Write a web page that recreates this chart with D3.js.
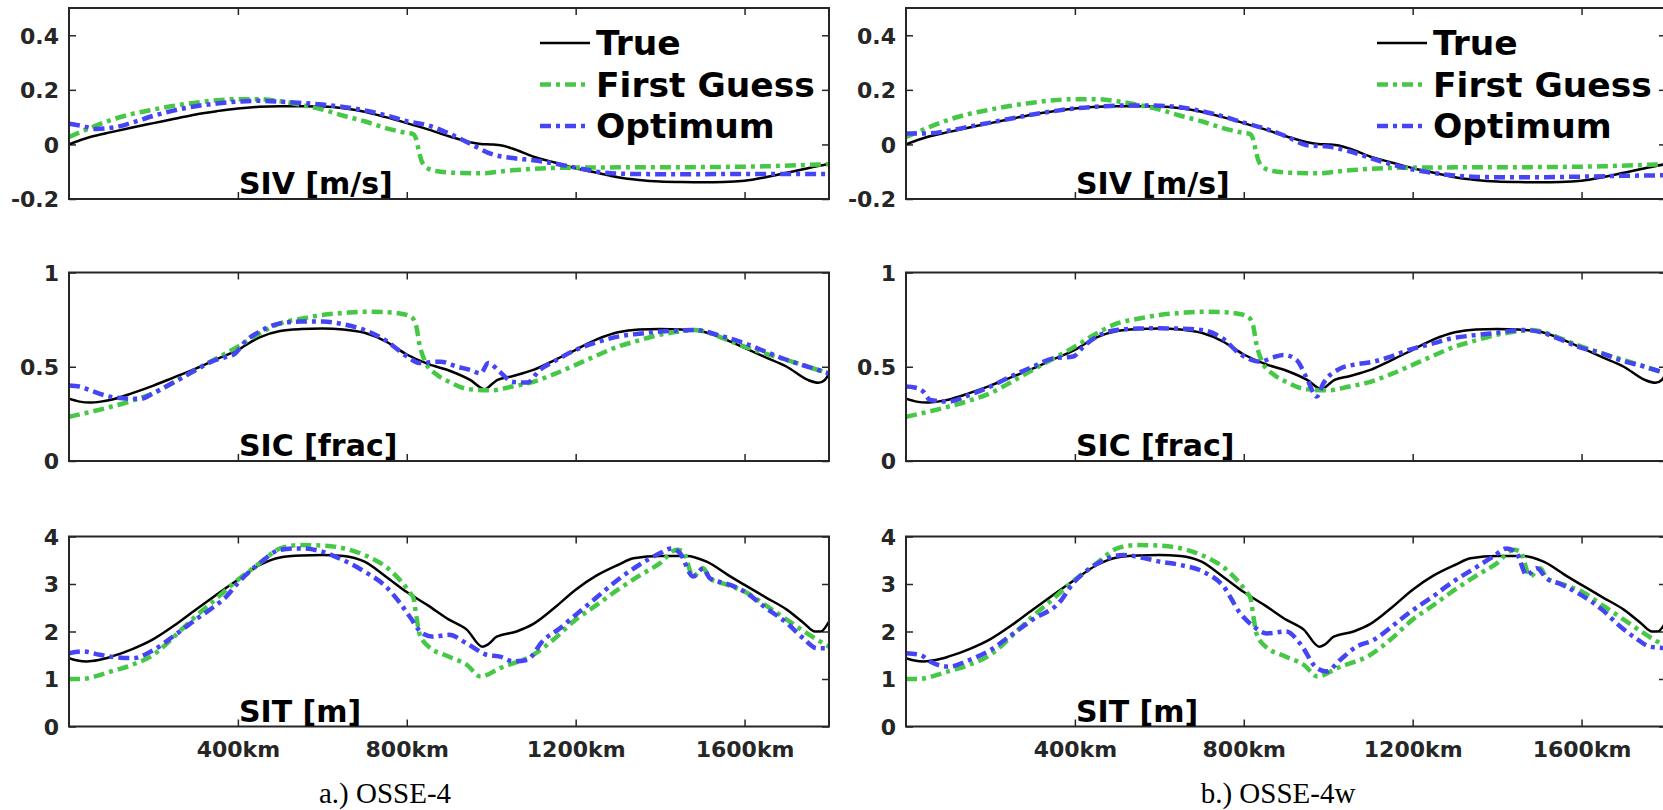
<!DOCTYPE html>
<html>
<head>
<meta charset="utf-8">
<script src="https://cdn.jsdelivr.net/npm/d3@7"></script>
<style>
  body { margin: 0; background: #fff; }
  text { font-family: "DejaVu Sans", sans-serif; font-weight: bold; }
  .caption { font-family: "Liberation Serif", serif; font-weight: normal; }
</style>
</head>
<body>
<div id="chart"></div>
<script>
// categories / labels
let captions = ["a.) OSSE-4", "b.) OSSE-4w"];
let seriesNames = ["True", "First Guess", "Optimum"];
let rowLabels = ["SIV [m/s]", "SIC [frac]", "SIT [m]"];
let xTicks = [400, 800, 1200, 1600];
let sivTicks = [-0.2, 0, 0.2, 0.4];
let sicTicks = [0, 0.5, 1];
let sitTicks = [0, 1, 2, 3, 4];
let sivDomain = [-0.2, 0.5];
let sicDomain = [0, 1];
let sitDomain = [0, 4];

// values as [km, value]
let sivTrue = [[0,0],[50,0.027],[100,0.045],[150,0.062],[200,0.078],[250,0.094],[300,0.11],[350,0.122],[400,0.132],[450,0.138],[500,0.14],[550,0.14],[600,0.139],[650,0.133],[700,0.12],[750,0.1],[800,0.078],[850,0.055],[900,0.03],[950,0.008],[975,0.002],[1000,0.0],[1025,-0.004],[1050,-0.015],[1100,-0.045],[1150,-0.066],[1200,-0.087],[1250,-0.104],[1300,-0.12],[1350,-0.13],[1400,-0.136],[1450,-0.138],[1500,-0.139],[1550,-0.138],[1600,-0.133],[1650,-0.12],[1700,-0.104],[1750,-0.087],[1800,-0.072]];
let sivGuess = [[0,0.027],[50,0.06],[100,0.09],[150,0.112],[200,0.128],[250,0.142],[300,0.153],[350,0.162],[400,0.166],[450,0.166],[500,0.158],[550,0.145],[600,0.128],[650,0.105],[700,0.085],[750,0.06],[800,0.042],[815,0.038],[822,0.02],[828,-0.02],[835,-0.06],[850,-0.088],[880,-0.1],[930,-0.105],[970,-0.106],[1050,-0.095],[1150,-0.086],[1300,-0.084],[1500,-0.083],[1650,-0.08],[1800,-0.072]];
let sivOptA = [[0,0.076],[30,0.068],[65,0.057],[110,0.063],[150,0.08],[200,0.105],[250,0.125],[300,0.14],[350,0.15],[400,0.157],[450,0.16],[500,0.157],[550,0.152],[600,0.146],[650,0.137],[700,0.125],[750,0.107],[800,0.085],[850,0.07],[900,0.04],[950,0.003],[1000,-0.035],[1050,-0.05],[1100,-0.058],[1150,-0.07],[1200,-0.085],[1250,-0.1],[1300,-0.107],[1400,-0.109],[1500,-0.109],[1600,-0.108],[1700,-0.108],[1800,-0.108]];
let sivOptB = [[0,0.04],[50,0.04],[100,0.05],[150,0.065],[200,0.08],[250,0.095],[300,0.11],[350,0.122],[400,0.132],[450,0.138],[500,0.142],[550,0.143],[600,0.142],[650,0.136],[700,0.122],[750,0.103],[800,0.08],[850,0.058],[900,0.03],[950,-0.003],[1000,-0.008],[1050,-0.025],[1100,-0.05],[1150,-0.073],[1200,-0.092],[1250,-0.105],[1300,-0.114],[1350,-0.119],[1400,-0.12],[1500,-0.12],[1600,-0.118],[1700,-0.115],[1800,-0.113]];

let sicTrue = [[0,0.33],[25,0.315],[50,0.31],[75,0.315],[100,0.325],[150,0.36],[200,0.4],[250,0.445],[300,0.49],[350,0.54],[400,0.59],[450,0.655],[500,0.69],[550,0.7],[600,0.703],[650,0.698],[700,0.68],[750,0.635],[800,0.565],[850,0.515],[900,0.48],[950,0.43],[985,0.38],[1000,0.405],[1015,0.43],[1050,0.45],[1100,0.483],[1150,0.535],[1200,0.59],[1250,0.645],[1300,0.683],[1350,0.698],[1400,0.7],[1450,0.697],[1500,0.687],[1560,0.64],[1600,0.6],[1650,0.55],[1700,0.5],[1750,0.43],[1775,0.415],[1790,0.43],[1800,0.465]];
let sicGuess = [[0,0.235],[50,0.26],[100,0.288],[150,0.32],[200,0.36],[250,0.42],[300,0.483],[350,0.545],[400,0.607],[450,0.675],[500,0.73],[550,0.755],[600,0.775],[650,0.785],[700,0.792],[750,0.79],[790,0.78],[810,0.765],[822,0.72],[830,0.62],[845,0.52],[870,0.46],[900,0.42],[950,0.38],[1000,0.375],[1050,0.395],[1100,0.42],[1150,0.462],[1200,0.51],[1250,0.56],[1300,0.607],[1350,0.64],[1400,0.67],[1450,0.688],[1480,0.695],[1500,0.69],[1550,0.65],[1600,0.607],[1650,0.57],[1700,0.536],[1750,0.5],[1800,0.465]];
let sicOptA = [[0,0.4],[25,0.395],[50,0.375],[100,0.34],[150,0.33],[170,0.33],[200,0.36],[250,0.42],[300,0.483],[340,0.53],[373,0.553],[390,0.565],[420,0.64],[452,0.687],[500,0.73],[550,0.74],[600,0.74],[650,0.725],[700,0.695],[750,0.64],[800,0.555],[830,0.52],[880,0.527],[920,0.5],[950,0.483],[975,0.465],[993,0.52],[1020,0.474],[1050,0.42],[1085,0.416],[1115,0.483],[1150,0.53],[1200,0.589],[1250,0.63],[1300,0.66],[1350,0.675],[1400,0.687],[1450,0.693],[1480,0.695],[1550,0.66],[1600,0.625],[1650,0.58],[1700,0.536],[1750,0.5],[1800,0.465]];
let sicOptB = [[0,0.395],[20,0.39],[40,0.37],[57,0.324],[100,0.315],[150,0.35],[200,0.395],[250,0.45],[300,0.5],[350,0.545],[396,0.554],[420,0.607],[460,0.67],[500,0.695],[550,0.703],[600,0.704],[650,0.702],[700,0.695],[750,0.65],[790,0.57],[838,0.527],[870,0.55],[894,0.563],[925,0.536],[949,0.44],[973,0.342],[988,0.41],[1028,0.49],[1059,0.51],[1107,0.527],[1150,0.555],[1191,0.589],[1250,0.625],[1291,0.65],[1350,0.668],[1391,0.678],[1462,0.695],[1500,0.685],[1550,0.645],[1591,0.607],[1650,0.57],[1691,0.536],[1750,0.5],[1800,0.465]];

let sitTrue = [[0,1.44],[20,1.39],[42,1.37],[70,1.4],[100,1.47],[150,1.63],[200,1.84],[250,2.13],[300,2.46],[350,2.78],[400,3.09],[452,3.4],[500,3.56],[550,3.6],[600,3.61],[650,3.59],[700,3.47],[750,3.16],[800,2.83],[850,2.55],[900,2.25],[942,2.04],[979,1.68],[991,1.72],[1013,1.89],[1060,2.0],[1100,2.16],[1150,2.5],[1200,2.88],[1250,3.18],[1300,3.4],[1337,3.54],[1400,3.59],[1463,3.59],[1510,3.47],[1566,3.16],[1600,2.98],[1650,2.72],[1700,2.46],[1740,2.18],[1767,2.0],[1780,2.0],[1800,2.21]];
let sitGuess = [[0,1.0],[30,1.0],[60,1.05],[100,1.16],[150,1.3],[200,1.51],[250,1.9],[300,2.32],[350,2.7],[400,3.09],[452,3.44],[500,3.75],[547,3.82],[600,3.81],[665,3.72],[700,3.61],[768,3.23],[808,2.81],[816,2.7],[823,2.3],[830,1.96],[847,1.72],[900,1.47],[942,1.3],[975,1.05],[1021,1.23],[1100,1.51],[1150,1.85],[1200,2.25],[1250,2.56],[1300,2.88],[1350,3.17],[1400,3.44],[1439,3.72],[1455,3.68],[1478,3.16],[1502,3.33],[1518,3.12],[1560,2.98],[1600,2.84],[1650,2.55],[1700,2.25],[1750,1.95],[1800,1.68]];
let sitOptA = [[0,1.54],[34,1.58],[73,1.51],[100,1.47],[152,1.44],[200,1.61],[250,1.92],[300,2.25],[340,2.5],[373,2.74],[400,3.02],[452,3.44],[500,3.72],[547,3.75],[600,3.68],[650,3.5],[700,3.26],[750,2.95],[784,2.6],[808,2.3],[837,1.96],[863,1.89],[900,1.93],[942,1.75],[989,1.51],[1021,1.47],[1052,1.37],[1084,1.4],[1124,1.82],[1160,2.05],[1200,2.35],[1250,2.72],[1300,3.09],[1350,3.4],[1400,3.65],[1427,3.75],[1447,3.65],[1478,3.16],[1502,3.33],[1518,3.12],[1560,3.0],[1600,2.84],[1650,2.5],[1700,2.18],[1740,1.85],[1771,1.65],[1800,1.65]];
let sitOptB = [[0,1.54],[33,1.51],[57,1.37],[100,1.26],[150,1.4],[200,1.61],[250,1.93],[300,2.25],[365,2.63],[396,3.02],[436,3.33],[515,3.61],[560,3.55],[602,3.47],[650,3.4],[704,3.26],[752,2.95],[791,2.39],[823,2.11],[854,1.96],[901,2.0],[933,1.75],[973,1.23],[996,1.16],[1028,1.4],[1067,1.68],[1107,1.82],[1150,2.1],[1191,2.39],[1250,2.75],[1291,3.02],[1350,3.35],[1391,3.58],[1423,3.75],[1446,3.65],[1470,3.19],[1494,3.33],[1517,3.12],[1550,3.0],[1591,2.81],[1650,2.45],[1691,2.11],[1730,1.85],[1762,1.68],[1800,1.65]];

// layout
let svgWidth = 1663;
let svgHeight = 810;
let panelW = 760;
let colX = [69, 906];
let rowY = [8, 272.5, 536.5];
let rowH = [191, 188.5, 190];
let colors = ["#000000", "#46c846", "#4545f5"];
let widths = [2.5, 4.5, 4.5];
let dashes = [null, "11,5,4,5", "11,5,4,5"];
let axisColor = "#262626";

let rows = [
  { label: rowLabels[0], ticks: sivTicks, domain: sivDomain, truth: sivTrue, guess: sivGuess, opt: [sivOptA, sivOptB] },
  { label: rowLabels[1], ticks: sicTicks, domain: sicDomain, truth: sicTrue, guess: sicGuess, opt: [sicOptA, sicOptB] },
  { label: rowLabels[2], ticks: sitTicks, domain: sitDomain, truth: sitTrue, guess: sitGuess, opt: [sitOptA, sitOptB] }
];

let svg = d3.select("#chart")
  .append("svg")
  .attr("width", svgWidth)
  .attr("height", svgHeight);

let xScale = d3.scaleLinear().domain([0, 1800]).range([0, panelW]);

captions.forEach((cap, c) => {
  rows.forEach((row, r) => {
    let h = rowH[r];
    let yScale = d3.scaleLinear().domain(row.domain).range([h, 0]);
    let g = svg.append("g").attr("transform", `translate(${colX[c]}, ${rowY[r]})`);
    let clipId = `clip-${c}-${r}`;

    g.append("clipPath").attr("id", clipId)
      .append("rect").attr("width", panelW).attr("height", h);

    // inward ticks on all four sides
    let bottom = g.append("g").attr("transform", `translate(0, ${h})`)
      .call(d3.axisBottom(xScale).tickValues(xTicks).tickSizeInner(-7).tickSizeOuter(0)
        .tickFormat(r === 2 ? d => d + "km" : ""));
    g.append("g")
      .call(d3.axisTop(xScale).tickValues(xTicks).tickSizeInner(-7).tickSizeOuter(0).tickFormat(""));
    let left = g.append("g")
      .call(d3.axisLeft(yScale).tickValues(row.ticks).tickSizeInner(-7).tickSizeOuter(0)
        .tickPadding(10).tickFormat(d => String(d)));
    g.append("g").attr("transform", `translate(${panelW}, 0)`)
      .call(d3.axisRight(yScale).tickValues(row.ticks).tickSizeInner(-7).tickSizeOuter(0).tickFormat(""));

    g.selectAll(".domain").remove();
    g.selectAll(".tick line").attr("stroke", axisColor).attr("stroke-width", 1.5);
    left.selectAll("text").attr("font-size", 22).attr("fill", axisColor).attr("dy", "0.36em");
    bottom.selectAll("text").attr("font-size", 22).attr("fill", axisColor).attr("y", 30).attr("dy", 0);

    let line = d3.line()
      .x(d => xScale(d[0]))
      .y(d => yScale(d[1]))
      .curve(d3.curveMonotoneX);

    let series = [row.truth, row.guess, row.opt[c]];
    series.forEach((s, i) => {
      g.append("path")
        .datum(s)
        .attr("clip-path", `url(#${clipId})`)
        .attr("fill", "none")
        .attr("stroke", colors[i])
        .attr("stroke-width", widths[i])
        .attr("stroke-dasharray", dashes[i])
        .attr("stroke-linejoin", "round")
        .attr("d", line);
    });

    // box
    g.append("rect")
      .attr("width", panelW).attr("height", h)
      .attr("fill", "none").attr("stroke", axisColor).attr("stroke-width", 2);

    g.append("text")
      .attr("x", xScale(400) + 1)
      .attr("y", h - 5)
      .attr("font-size", 30)
      .attr("fill", "#000")
      .text(row.label);

    if (r === 0) {
      let leg = g.append("g");
      seriesNames.forEach((name, i) => {
        let ly = 35 + i * 41.5;
        leg.append("line")
          .attr("x1", 471).attr("x2", 521)
          .attr("y1", ly).attr("y2", ly)
          .attr("stroke", colors[i])
          .attr("stroke-width", widths[i])
          .attr("stroke-dasharray", dashes[i]);
        leg.append("text")
          .attr("x", 527).attr("y", ly + 12)
          .attr("font-size", 34.5)
          .attr("fill", "#000")
          .text(name);
      });
    }
  });
});

svg.selectAll(".caption")
  .data(captions)
  .enter()
  .append("text")
  .attr("class", "caption")
  .attr("x", (d, i) => [385, 1278][i])
  .attr("y", 803)
  .attr("text-anchor", "middle")
  .attr("font-size", 29)
  .attr("fill", "#000")
  .text(d => d);
</script>
</body>
</html>
